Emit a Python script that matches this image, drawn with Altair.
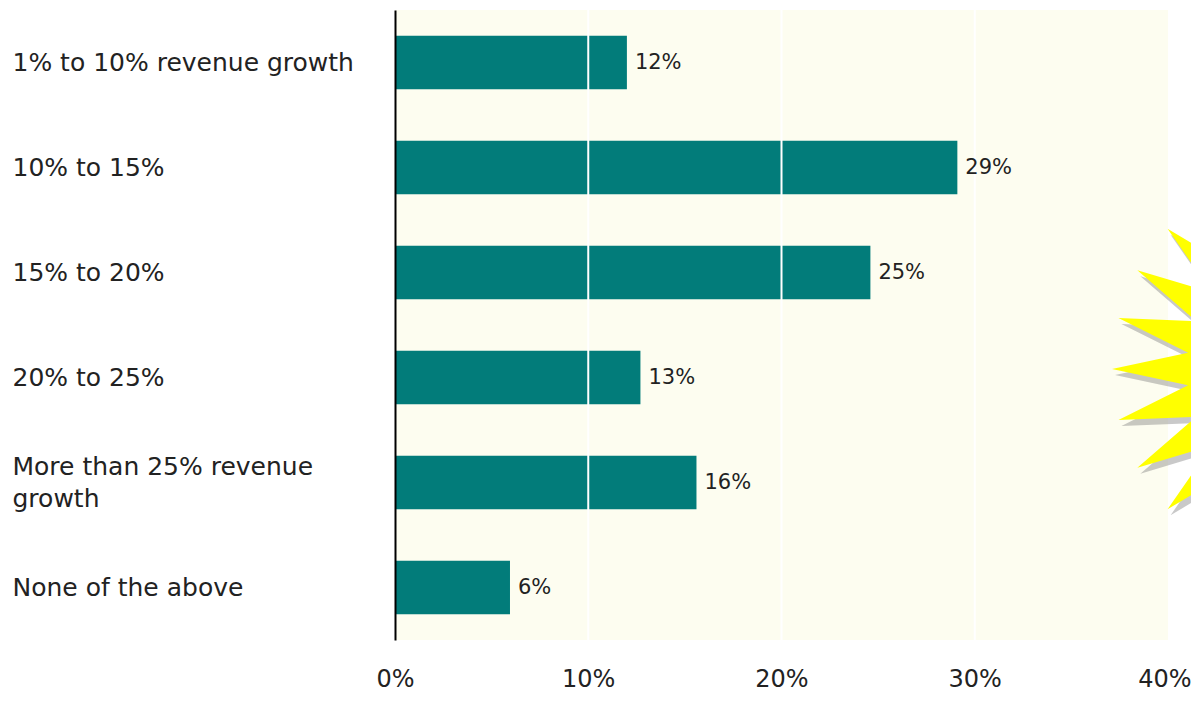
import math
import altair as alt
import pandas as pd

categories = [
    "1% to 10% revenue growth",
    "10% to 15%",
    "15% to 20%",
    "20% to 25%",
    "More than 25% revenue growth",
    "None of the above",
]
values = [12.0, 29.1, 24.6, 12.7, 15.6, 5.95]
value_labels = ["12%", "29%", "25%", "13%", "16%", "6%"]
x_ticks = [0, 10, 20, 30, 40]
grid_values = [10, 20, 30]

df = pd.DataFrame({"cat": categories, "val": values, "lab": value_labels})
grid_df = pd.DataFrame({"g": grid_values})

FONT = "Verdana, DejaVu Sans, sans-serif"
TEAL = "#027C7A"
TXT = "#222222"
WRAPPED = "More than 25% revenue growth"

y_enc = alt.Y(
    "cat:N",
    sort=categories,
    scale=alt.Scale(paddingInner=0.49, paddingOuter=0.245),
    axis=alt.Axis(
        title=None,
        ticks=False,
        tickSize=0,
        labelAlign="left",
        labelBaseline="middle",
        labelPadding=383,
        labelLimit=420,
        labelFont=FONT,
        labelFontSize=25,
        labelColor=TXT,
        labelLineHeight=32,
        labelOffset={
            "condition": {"test": f"datum.label == '{WRAPPED}'", "value": -16},
            "value": 0,
        },
        labelExpr=f"datum.label == '{WRAPPED}' ? ['More than 25% revenue', 'growth'] : datum.label",
        domainColor="#000000",
        domainWidth=2,
        grid=False,
        zindex=2,
    ),
)

x_enc = alt.X(
    "val:Q",
    scale=alt.Scale(domain=[0, 40], nice=False),
    axis=alt.Axis(
        title=None,
        values=x_ticks,
        ticks=False,
        tickSize=0,
        domain=False,
        labelPadding=39,
        labelBaseline="middle",
        labelFont=FONT,
        labelFontSize=24,
        labelColor=TXT,
        labelExpr="datum.value + '%'",
        labelFlush=False,
        labelAlign={
            "condition": {"test": "datum.value == 40", "value": "right"},
            "value": "center",
        },
        labelOffset={
            "condition": {"test": "datum.value == 40", "value": 23},
            "value": 0,
        },
        grid=False,
    ),
)

bars = alt.Chart(df).mark_bar(color=TEAL).encode(x=x_enc, y=y_enc)

grid = alt.Chart(grid_df).mark_rule(color="#FFFFFF", strokeWidth=2).encode(
    x=alt.X("g:Q")
)

texts = alt.Chart(df).mark_text(
    align="left", baseline="middle", dx=8, font=FONT, fontSize=21, color=TXT
).encode(
    x=alt.X("val:Q"),
    y=alt.Y("cat:N", sort=categories),
    text="lab:N",
)

# decorative starburst (partly off the right edge)
n_spikes = 25
r_in = 0.634
pts = []
for i in range(2 * n_spikes):
    ang = math.pi + i * math.pi / n_spikes
    r = 1.0 if i % 2 == 0 else r_in
    pts.append((r * math.cos(ang), r * math.sin(ang)))
star_path = "M" + " L".join(f"{px:.4f},{py:.4f}" for px, py in pts) + " Z"

one = pd.DataFrame({"a": [0]})
star_size = 410 ** 2
shadow = alt.Chart(one).mark_point(
    shape=star_path, filled=True, size=star_size, color="#777777",
    opacity=0.4, clip=False, strokeWidth=0,
).encode(x=alt.value(925), y=alt.value(365))
star = alt.Chart(one).mark_point(
    shape=star_path, filled=True, size=star_size, color="#FFFF00",
    opacity=1, clip=False, strokeWidth=0,
).encode(x=alt.value(922), y=alt.value(359))

chart = (
    alt.layer(bars, grid, texts, shadow, star)
    .properties(
        width=773,
        height=630,
        padding={"left": 387, "top": 2, "right": 23, "bottom": 54},
        autosize=alt.AutoSizeParams(type="none"),
        background="#FFFFFF",
    )
    .configure_view(fill="#FDFDF0", stroke=None, strokeWidth=0)
)

chart.save("out.html", embed_options={"renderer": "svg", "actions": False})
